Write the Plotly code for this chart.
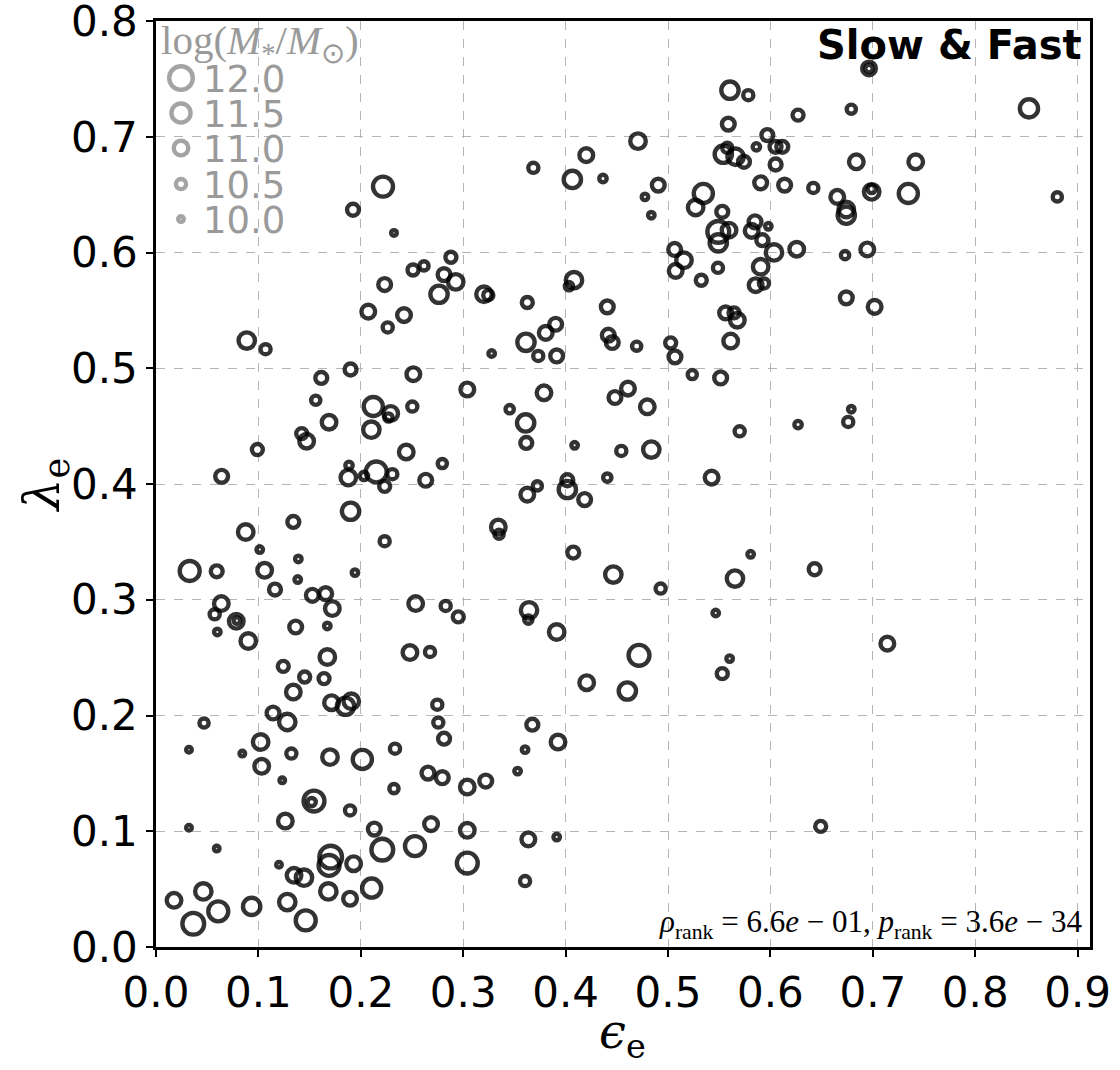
import plotly.graph_objects as go

# ---- data: (epsilon_e, lambda_e, log M*) ----
eps = [
    0.2217, 0.1924, 0.2324, 0.288, 0.251, 0.2617, 0.2813, 0.2927, 0.2764, 0.2233, 0.2073, 0.2422, 0.2263,
    0.0886, 0.107, 0.1614, 0.190, 0.2513, 0.304, 0.156, 0.2122, 0.169, 0.2292, 0.227, 0.2503, 0.1423,
    0.1471, 0.2103, 0.2444, 0.2796, 0.099, 0.0641, 0.1885, 0.1878, 0.2151, 0.2031, 0.2308, 0.2233, 0.2634,
    0.190, 0.1341, 0.0876, 0.2233, 0.1013, 0.139, 0.0329, 0.0593, 0.1061, 0.1384, 0.1943, 0.1162, 0.1527,
    0.1657, 0.1722, 0.0638, 0.0573, 0.0784, 0.079, 0.0599, 0.0901, 0.1364, 0.1673, 0.2536, 0.2829, 0.2952,
    0.1673, 0.248, 0.2676, 0.1243, 0.1452, 0.1641, 0.1341, 0.1714, 0.1851, 0.1907, 0.1143, 0.1282, 0.0469,
    0.0322, 0.0843, 0.1022, 0.1032, 0.1322, 0.1233, 0.1699, 0.2015, 0.2334, 0.2324, 0.2747, 0.2757, 0.2813,
    0.2656, 0.2796, 0.304, 0.1543, 0.152, 0.1895, 0.0322, 0.0593, 0.1263, 0.2132, 0.2686, 0.304, 0.221,
    0.2529, 0.304, 0.1201, 0.1706, 0.169, 0.1930, 0.1348, 0.1445, 0.1683, 0.1895, 0.2106, 0.0176, 0.0462,
    0.0608, 0.0364, 0.0934, 0.1282, 0.1462,
    0.5605, 0.5784, 0.5589, 0.597, 0.4707, 0.4202, 0.3685, 0.4066, 0.4365, 0.4905, 0.4775, 0.4837, 0.5345,
    0.527, 0.553, 0.5863, 0.554, 0.566, 0.5742, 0.5579, 0.5905, 0.5491, 0.5596, 0.5491, 0.585, 0.5817,
    0.5921, 0.598, 0.5065, 0.5156, 0.5075, 0.5488, 0.5325, 0.5905, 0.5856, 0.5937, 0.3203, 0.3245, 0.3626,
    0.4082, 0.4033, 0.4407, 0.3903, 0.3806, 0.3613, 0.4417, 0.5026, 0.5612, 0.5677, 0.5563, 0.5645,
    0.6963, 0.6963, 0.8525, 0.627, 0.679, 0.605, 0.6116, 0.6051, 0.6839, 0.7419, 0.6139, 0.6419, 0.6653,
    0.6741, 0.6741, 0.6989, 0.6989, 0.7347, 0.8802, 0.6035, 0.6257, 0.6729, 0.6946, 0.6741, 0.7018,
    0.3278, 0.3733, 0.3913, 0.4456, 0.4694, 0.5068, 0.5237, 0.5514, 0.3789, 0.3454, 0.361, 0.3616, 0.4482,
    0.4609, 0.4798, 0.4088, 0.4544, 0.4837, 0.57, 0.4407, 0.5426, 0.3724, 0.3626, 0.4017, 0.4017, 0.4186,
    0.3343, 0.335, 0.4075, 0.4466, 0.4928, 0.5654, 0.5807, 0.3643, 0.3636, 0.3913, 0.5466,
    0.4717, 0.4206, 0.4603, 0.553, 0.5602, 0.3675, 0.3926, 0.3604, 0.3531, 0.322, 0.3636, 0.3913, 0.3604,
    0.6491, 0.679, 0.676, 0.627, 0.6432, 0.7142,
]
lam = [
    0.657, 0.637, 0.617, 0.596, 0.585, 0.5885, 0.581, 0.5747, 0.564, 0.5724, 0.549, 0.546, 0.5353,
    0.524, 0.5165, 0.4917, 0.499, 0.4949, 0.4817, 0.4724, 0.467, 0.4534, 0.461, 0.4575, 0.467, 0.4436,
    0.437, 0.447, 0.4277, 0.4177, 0.4298, 0.4067, 0.4162, 0.4056, 0.4105, 0.407, 0.4085, 0.398, 0.4033,
    0.3765, 0.3673, 0.3586, 0.3506, 0.3434, 0.3353, 0.3249, 0.3246, 0.3255, 0.3175, 0.3235, 0.3088, 0.3039,
    0.3053, 0.2924, 0.2967, 0.2875, 0.2814, 0.282, 0.2722, 0.2644, 0.2765, 0.2774, 0.2967, 0.2947, 0.2852,
    0.2506, 0.2544, 0.2549, 0.2425, 0.2333, 0.2319, 0.2203, 0.2111, 0.208, 0.2123, 0.2022, 0.1944, 0.1935,
    0.1705, 0.1671, 0.1771, 0.1561, 0.1671, 0.144, 0.1641, 0.1621, 0.1714, 0.1368, 0.2094, 0.1939, 0.18,
    0.1503, 0.1463, 0.1382, 0.1261, 0.1252, 0.118, 0.1031, 0.085, 0.1088, 0.1019, 0.1062, 0.1008, 0.0841,
    0.0872, 0.0725, 0.0711, 0.0777, 0.0705, 0.072, 0.0619, 0.0599, 0.048, 0.0417, 0.0509, 0.0403, 0.048,
    0.0308, 0.0201, 0.0351, 0.0388, 0.023,
    0.7403, 0.736, 0.711, 0.7015, 0.6963, 0.6842, 0.6732, 0.6632, 0.664, 0.6583, 0.6481, 0.6323, 0.6511,
    0.639, 0.6352, 0.6914, 0.685, 0.6828, 0.6784, 0.6905, 0.6603, 0.6179, 0.6194, 0.6084, 0.6266, 0.6188,
    0.6107, 0.6227, 0.6027, 0.5934, 0.5842, 0.5868, 0.5761, 0.5877, 0.5718, 0.5733, 0.564, 0.5632, 0.5569,
    0.5762, 0.571, 0.5531, 0.5381, 0.5306, 0.5225, 0.5286, 0.522, 0.5235, 0.5416, 0.5479, 0.5479,
    0.7591, 0.7591, 0.7246, 0.7188, 0.7239, 0.6914, 0.6914, 0.6761, 0.6784, 0.6784, 0.6583, 0.6559, 0.6481,
    0.6372, 0.6323, 0.6525, 0.655, 0.6511, 0.6481, 0.6001, 0.6029, 0.5978, 0.6027, 0.5609, 0.5531,
    0.5128, 0.5107, 0.5107, 0.5223, 0.5191, 0.5099, 0.4946, 0.4917, 0.4788, 0.4647, 0.4528, 0.4355, 0.4748,
    0.4825, 0.4667, 0.4335, 0.4286, 0.4298, 0.4456, 0.4056, 0.4056, 0.3984, 0.3909, 0.4033, 0.3953, 0.3866,
    0.3629, 0.3566, 0.3408, 0.3218, 0.3097, 0.3183, 0.3393, 0.2909, 0.2829, 0.2722, 0.2886,
    0.252, 0.2284, 0.2212, 0.2362, 0.2492, 0.1921, 0.1771, 0.1705, 0.152, 0.1434, 0.093, 0.095, 0.057,
    0.1042, 0.4647, 0.4537, 0.4514, 0.3264, 0.2621,
]
logm = [
    11.6, 10.7, 10.0, 10.6, 10.6, 10.4, 10.8, 11.1, 11.3, 10.8, 10.9, 10.9, 10.5,
    11.2, 10.5, 10.7, 10.7, 10.9, 10.9, 10.4, 11.5, 11.0, 11.0, 10.3, 10.5, 10.6,
    11.0, 11.2, 11.0, 10.4, 10.6, 10.8, 10.2, 11.1, 11.7, 10.3, 10.5, 10.6, 10.8,
    11.3, 10.7, 11.1, 10.5, 10.1, 10.1, 11.6, 10.7, 11.0, 10.1, 10.1, 10.7, 10.8,
    10.8, 11.0, 11.0, 10.5, 11.0, 10.1, 10.1, 11.1, 10.8, 10.1, 11.0, 10.5, 10.6,
    11.1, 11.0, 10.5, 10.6, 10.6, 10.6, 11.0, 11.0, 11.3, 11.1, 10.8, 11.2, 10.4,
    10.0, 10.0, 11.1, 11.0, 10.5, 10.0, 11.1, 11.5, 10.5, 10.4, 10.5, 10.5, 10.7,
    10.8, 10.8, 11.0, 11.7, 10.3, 10.5, 10.0, 10.0, 11.0, 10.8, 10.9, 11.0, 11.8,
    11.6, 11.7, 10.0, 11.9, 11.7, 11.0, 11.0, 11.2, 11.2, 10.9, 11.5, 11.0, 11.2,
    11.6, 11.8, 11.3, 11.2, 11.6,
    11.3, 10.5, 10.8, 10.7, 11.1, 10.9, 10.5, 11.3, 10.2, 10.8, 10.1, 10.1, 11.5,
    11.1, 10.7, 10.2, 11.3, 11.2, 10.7, 10.5, 10.8, 11.8, 11.0, 11.3, 10.8, 10.9,
    10.7, 10.1, 10.8, 11.1, 10.9, 10.5, 10.6, 11.1, 10.9, 10.5, 11.1, 10.5, 10.6,
    11.2, 10.3, 10.8, 10.8, 10.9, 11.3, 10.8, 10.6, 11.0, 11.0, 10.8, 10.6,
    10.9, 10.2, 11.4, 10.6, 10.4, 10.7, 10.7, 10.7, 11.0, 11.0, 10.8, 10.5, 10.9,
    11.1, 11.3, 11.1, 10.3, 11.5, 10.4, 11.2, 11.0, 10.3, 10.9, 10.8, 10.9,
    10.1, 10.5, 10.8, 10.8, 10.4, 10.8, 10.4, 10.8, 11.0, 10.3, 11.3, 10.7, 10.8,
    10.9, 11.0, 10.1, 10.5, 11.2, 10.5, 10.3, 10.9, 10.4, 10.9, 10.7, 11.3, 10.8,
    11.0, 10.4, 10.7, 11.2, 10.5, 11.2, 10.1, 11.2, 10.3, 11.1, 10.1,
    11.7, 11.0, 11.3, 10.6, 10.1, 10.7, 11.0, 10.1, 10.1, 10.8, 10.9, 10.1, 10.5,
    10.6, 10.1, 10.5, 10.2, 10.7, 10.9,
]
legend_masses = [12.0, 11.5, 11.0, 10.5, 10.0]
legend_labels = ["12.0", "11.5", "11.0", "10.5", "10.0"]
x_ticks = [0.0, 0.1, 0.2, 0.3, 0.4, 0.5, 0.6, 0.7, 0.8, 0.9]
y_ticks = [0.0, 0.1, 0.2, 0.3, 0.4, 0.5, 0.6, 0.7, 0.8]
y_ticktext = ["0.0", "0.1", "0.2", "0.3", "0.4", "0.5", "0.6", "0.7", "0.8"]
rho_text = "<i>ρ</i><sub>rank</sub> = 6.6<i>e</i> − 01, <i>p</i><sub>rank</sub> = 3.6<i>e</i> − 34"

# ---- styling / layout ----
W, H = 1120, 1070
L, R, T, B = 156, 1090, 21, 946.6
LW = 4.4
RING = "rgba(0,0,0,0.8)"
LEG = "#a4a4a4"


def msize(m):
    return 10.0 + 9.0 * (m - 10.0) - LW


def px(xp):
    return (xp - L) / (R - L)


def py(yp):
    return (B - yp) / (B - T)


fig = go.Figure()
fig.add_trace(go.Scatter(
    x=eps, y=lam, mode="markers",
    marker=dict(symbol="circle", size=[msize(m) for m in logm], opacity=1,
                color="rgba(0,0,0,0)", line=dict(width=LW, color=RING)),
    showlegend=False, hoverinfo="skip", cliponaxis=False,
))

# size legend (drawn on an overlay axis spanning the plot area)
leg_rows = [78, 113, 148, 184, 219]
fig.add_trace(go.Scatter(
    x=[px(181)] * len(legend_masses), y=[py(r) for r in leg_rows], mode="markers",
    marker=dict(symbol="circle", size=[msize(m) for m in legend_masses], opacity=1,
                color="rgba(0,0,0,0)", line=dict(width=LW, color=LEG)),
    xaxis="x2", yaxis="y2", showlegend=False, hoverinfo="skip",
))

annotations = []
for lab, r in zip(legend_labels, leg_rows):
    annotations.append(dict(x=px(201), y=py(r + 1), xref="paper", yref="paper", text=lab,
                            showarrow=False, xanchor="left", yanchor="middle",
                            font=dict(family="DejaVu Sans", size=37, color="#9a9a9a")))
annotations.append(dict(x=px(159), y=py(43), xref="paper", yref="paper",
                        text="log(<i>M</i><sub>*</sub>/<i>M</i><sub>⊙</sub>)",
                        showarrow=False, xanchor="left", yanchor="middle",
                        font=dict(family="Liberation Serif", size=41, color="#9a9a9a")))
annotations.append(dict(x=px(1084), y=py(45), xref="paper", yref="paper",
                        text="<b>Slow & Fast</b>", showarrow=False, xanchor="right", yanchor="middle",
                        font=dict(family="DejaVu Sans", size=40, color="black")))
annotations.append(dict(x=px(1084), y=py(924), xref="paper", yref="paper",
                        text=rho_text, showarrow=False, xanchor="right", yanchor="middle",
                        font=dict(family="Liberation Serif", size=31, color="black")))
annotations.append(dict(x=px(45), y=py(485), xref="paper", yref="paper",
                        text="<i>λ</i><sub>e</sub>", showarrow=False, textangle=-90,
                        xanchor="center", yanchor="middle",
                        font=dict(family="DejaVu Serif", size=50, color="black")))
annotations.append(dict(x=px(622), y=py(1034), xref="paper", yref="paper",
                        text="<i>ϵ</i><sub>e</sub>", showarrow=False,
                        xanchor="center", yanchor="middle",
                        font=dict(family="DejaVu Serif", size=48, color="black")))

axis_common = dict(
    showline=True, linewidth=2.5, linecolor="black", mirror=True,
    ticks="outside", ticklen=7, tickwidth=1.5, tickcolor="black",
    showgrid=True, gridcolor="#b5b5b5", gridwidth=1.2, griddash="dash",
    zeroline=False, tickfont=dict(family="DejaVu Sans", size=42, color="black"),
    tickformat=".1f", ticklabeloverflow="allow", automargin=False,
)
fig.update_layout(
    width=W, height=H,
    margin=dict(l=L, r=W - R, t=T, b=H - B, pad=0, autoexpand=False),
    paper_bgcolor="white", plot_bgcolor="white",
    xaxis=dict(range=[0, (R - L) / 1024.0], tickvals=x_ticks, **axis_common),
    yaxis=dict(range=[0, 0.8001], tickvals=y_ticks, ticktext=y_ticktext, **axis_common),
    xaxis2=dict(overlaying="x", range=[0, 1], visible=False, fixedrange=True),
    yaxis2=dict(overlaying="y", range=[0, 1], visible=False, fixedrange=True),
    annotations=annotations,
)

fig.write_html("out.html")
